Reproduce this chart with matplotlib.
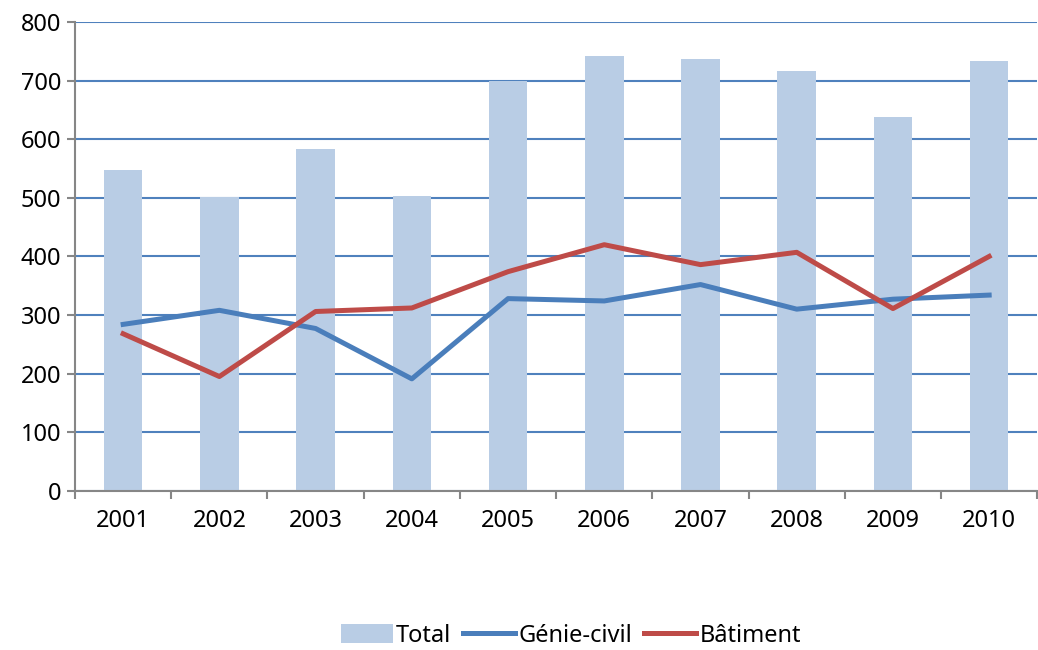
import matplotlib.pyplot as plt
import numpy as np

# values
years = ['2001', '2002', '2003', '2004', '2005', '2006', '2007', '2008', '2009', '2010']
total = [548, 502, 583, 504, 700, 742, 737, 716, 638, 733]
genie_civil = [284, 308, 277, 191, 328, 324, 352, 310, 327, 334]
batiment = [268, 195, 306, 312, 374, 420, 386, 407, 311, 400]

plt.rcParams['font.family'] = ['Noto Sans', 'DejaVu Sans']

fig = plt.figure(figsize=(10.38, 6.5), dpi=100)
ax = fig.add_axes([0.0723, 0.245, 0.927, 0.721])

x = np.arange(len(years))
bars = ax.bar(x, total, width=0.4, color='#B9CDE5', label='Total', zorder=2)
l1, = ax.plot(x, genie_civil, color='#4A7EBB', linewidth=3.6, label='Génie-civil', zorder=3)
l2, = ax.plot(x, batiment, color='#BE4B48', linewidth=3.6, label='Bâtiment', zorder=3)

ax.set_xlim(-0.5, len(years) - 0.5)
ax.set_ylim(0, 800)
ax.set_yticks(range(0, 801, 100))
ax.yaxis.grid(True, color='#4F81BD', linewidth=1.5, zorder=1)
ax.set_axisbelow(True)

# category labels centred, tick marks between categories
ax.set_xticks(x)
ax.set_xticklabels(years)
ax.set_xticks(np.arange(-0.5, len(years)), minor=True)
ax.tick_params(axis='x', which='major', length=0, labelsize=17, pad=13)
ax.tick_params(axis='x', which='minor', length=6, width=1.5, color='#868686')
ax.tick_params(axis='y', length=6, width=1.5, color='#868686', labelsize=17, pad=4)

for side in ['top', 'right']:
    ax.spines[side].set_visible(False)
for side in ['left', 'bottom']:
    ax.spines[side].set_color('#868686')
    ax.spines[side].set_linewidth(1.5)

fig.legend(handles=[bars, l1, l2], loc='center', bbox_to_anchor=(0.55, 0.022), ncol=3,
           frameon=False, fontsize=17, handlelength=2.2, handleheight=0.9,
           handletextpad=0.15, columnspacing=0.5)

plt.savefig('out.png', dpi=100)
